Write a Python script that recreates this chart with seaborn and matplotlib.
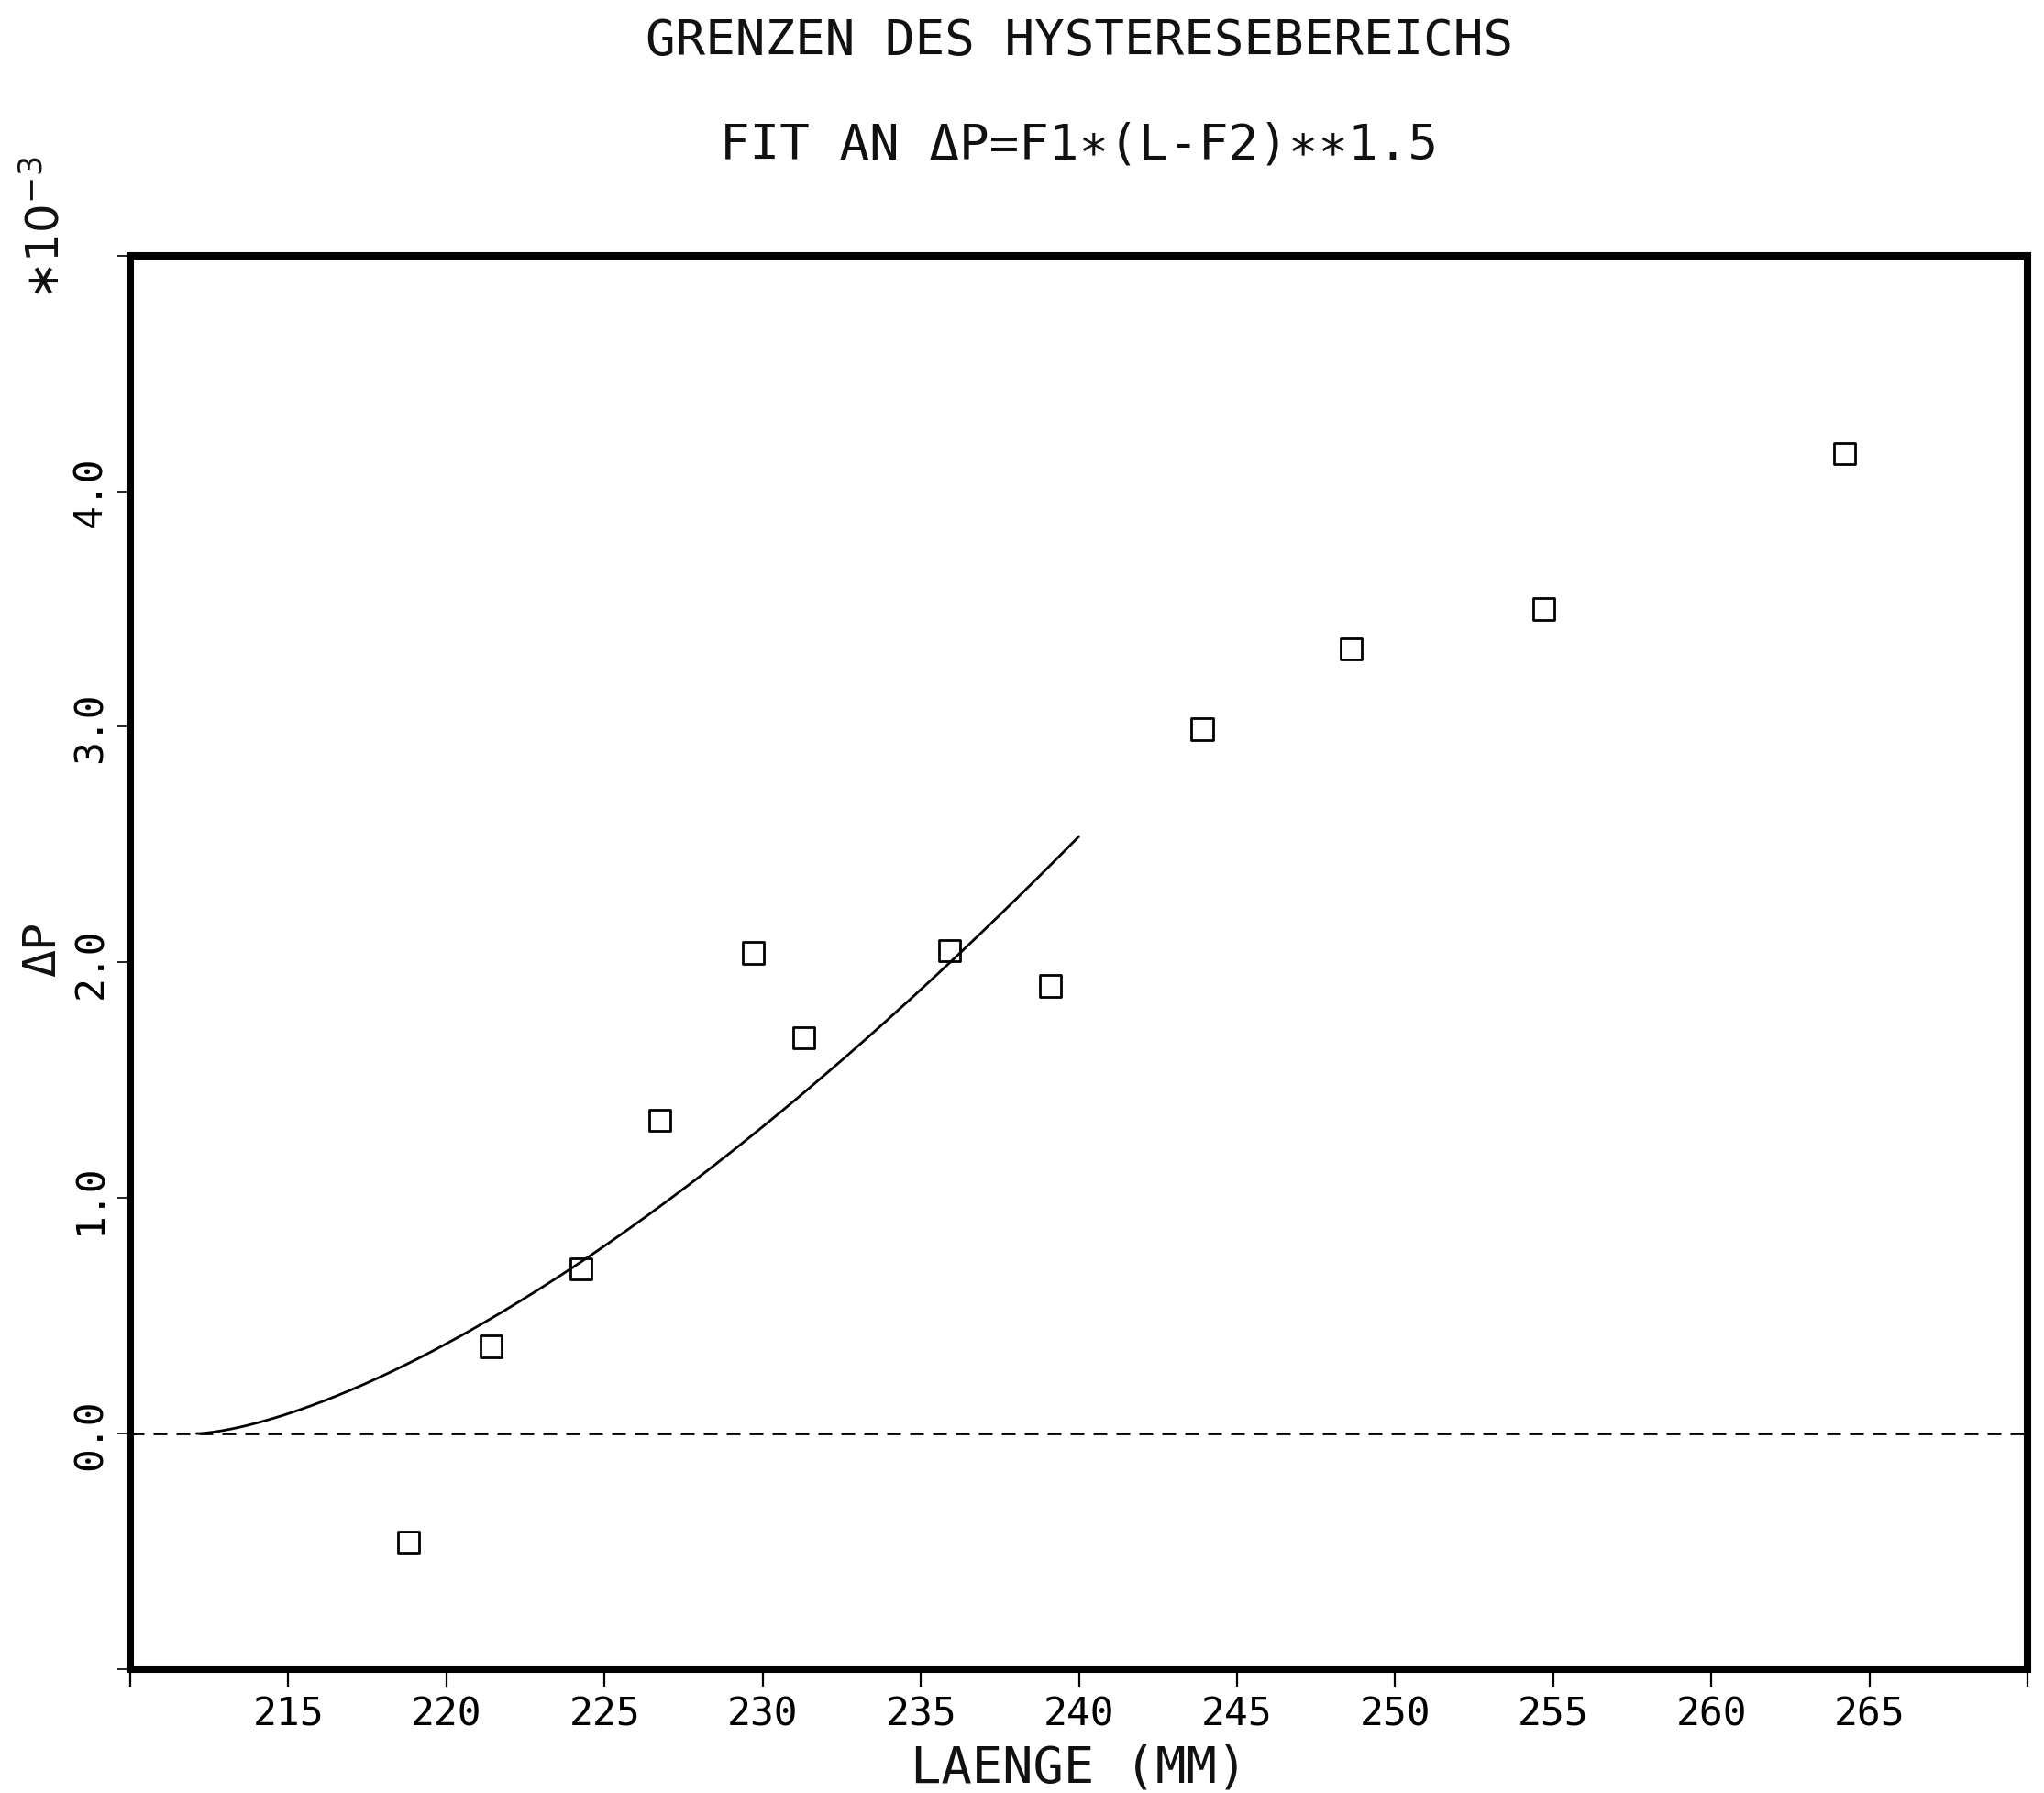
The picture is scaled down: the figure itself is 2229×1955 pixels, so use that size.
import numpy as np
import pandas as pd
import matplotlib
matplotlib.use("Agg")
import matplotlib.pyplot as plt
import seaborn as sns

# Measured hysteresis limits: length L (mm) vs pressure difference dP (x 1e-3)
laenge = [218.8, 221.4, 224.25, 226.75, 229.7, 231.3, 235.9, 239.1, 243.9, 248.6, 254.7, 264.2]
delta_p = [-0.46, 0.37, 0.70, 1.33, 2.04, 1.68, 2.05, 1.90, 2.99, 3.33, 3.50, 4.16]

# Fit dP = F1 * (L - F2) ** 1.5, drawn from F2 up to 240 mm
fit_f1 = 0.0172
fit_f2 = 212.1
fit_end = 240.0

x_ticks = [210, 215, 220, 225, 230, 235, 240, 245, 250, 255, 260, 265, 270]
x_tick_labels = ["", "215", "220", "225", "230", "235", "240", "245", "250", "255", "260", "265", ""]
y_ticks = [-1.0, 0.0, 1.0, 2.0, 3.0, 4.0, 5.0]
y_tick_labels = ["", "0.0", "1.0", "2.0", "3.0", "4.0", ""]

title_text = "GRENZEN DES HYSTERESEBEREICHS"
subtitle_text = "FIT AN \u0394P=F1\u2217(L-F2)\u2217\u22171.5"
x_label = "LAENGE (MM)"
y_label = "\u0394P"

sns.set_theme(style="ticks")
plt.rcParams["font.family"] = ["DejaVu Sans Mono", "DejaVu Sans"]
plt.rcParams["mathtext.fontset"] = "dejavusans"

fig = plt.figure(figsize=(22.29, 19.56), dpi=100)
fig.patch.set_facecolor("white")
ax = fig.add_axes([0.0637, 0.069, 0.992 - 0.0637, 0.857 - 0.069])
ax.set_facecolor("white")

pts = pd.DataFrame({"L": laenge, "dP": delta_p})
fit_x = np.linspace(fit_f2, fit_end, 200)
fit = pd.DataFrame({"L": fit_x, "dP": fit_f1 * (fit_x - fit_f2) ** 1.5})

ax.axhline(0.0, color="black", lw=2.0, dashes=(5.4, 3.6), zorder=1)
sns.lineplot(data=fit, x="L", y="dP", ax=ax, color="black", lw=2.0, zorder=2)
sns.scatterplot(data=pts, x="L", y="dP", ax=ax, marker="s", s=280,
                facecolors="none", edgecolors="black", linewidths=2.0, zorder=3)

ax.set_xlim(210, 270)
ax.set_ylim(-1.0, 5.0)
ax.set_xticks(x_ticks)
ax.set_xticklabels(x_tick_labels, fontsize=31)
ax.set_yticks(y_ticks)
ax.set_yticklabels(y_tick_labels, fontsize=31, rotation=90, va="center")
ax.tick_params(axis="x", direction="out", length=14, width=1.6, pad=6, colors="black")
ax.tick_params(axis="y", direction="out", length=10, width=1.2, pad=6, colors="black")
ax.set_xlabel("")
ax.set_ylabel("")

for sp in ax.spines.values():
    sp.set_visible(True)
    sp.set_linewidth(5.8)
    sp.set_color("black")

fig.text(0.5 * (0.0637 + 0.992), 1 - 45 / 1956, title_text, fontsize=39,
         ha="center", va="center", color="#111111")
fig.text(0.5 * (0.0637 + 0.992), 1 - 159 / 1956, subtitle_text, fontsize=39,
         ha="center", va="center", color="#111111")
fig.text(0.5 * (0.0637 + 0.992), 1 - 1929 / 1956, x_label, fontsize=40,
         ha="center", va="center", color="#111111")
fig.text(46 / 2229, 1 - 1035 / 1956, y_label, fontsize=36, rotation=90,
         ha="center", va="center", color="#111111")
fig.text(50 / 2229, 1 - 249 / 1956, r"$\ast10^{-3}$", fontsize=36, rotation=90,
         ha="center", va="center", color="#111111")

fig.savefig("out.png", dpi=100, facecolor="white")
